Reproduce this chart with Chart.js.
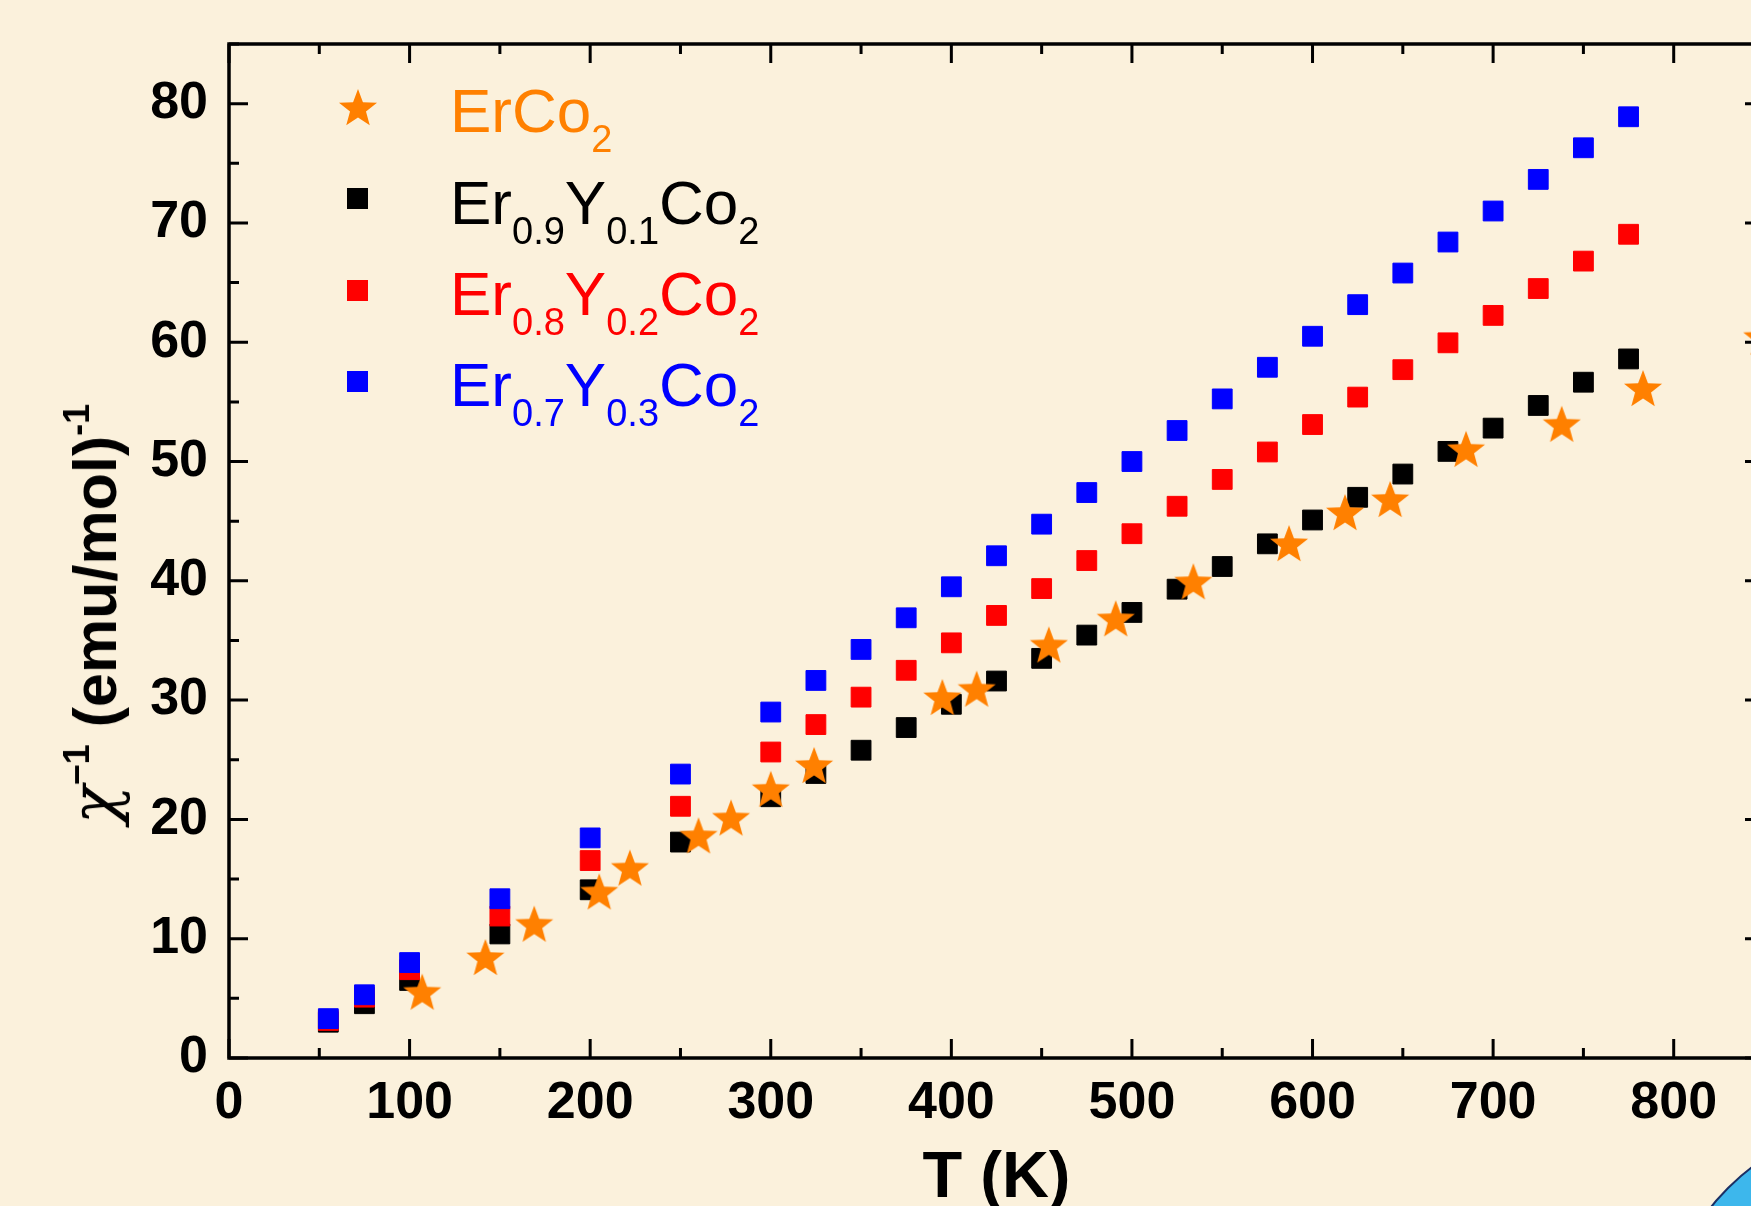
<!DOCTYPE html>
<html>
<head>
<meta charset="utf-8">
<script src="https://cdn.jsdelivr.net/npm/chart.js@4/dist/chart.umd.min.js"></script>
<style>
  html, body { margin: 0; padding: 0; }
  body {
    width: 1751px; height: 1206px; overflow: hidden; position: relative;
    background: #fbf1dc;
    font-family: "Liberation Sans", Arial, sans-serif;
  }
  #wrap { position: absolute; left: 0; top: 0; width: 1787px; height: 1240px; }
  .row { position: absolute; left: 450px; font-size: 62px; line-height: 62px; white-space: nowrap; }
  .row sub { font-size: 38px; vertical-align: -20px; line-height: 0; }
  .mk { position: absolute; width: 21px; height: 21px; }
  #ytitle {
    position: absolute; left: 94px; top: 614px;
    transform: translate(-50%, -50%) rotate(-90deg);
    font-size: 61px; font-weight: bold; white-space: nowrap; color: #000;
  }
  #ytitle sup { font-size: 36px; vertical-align: 27px; line-height: 0; }
  #ytitle .chi { font-family: "DejaVu Serif", serif; font-style: italic; font-weight: normal; font-size: 64px; }
  #deco {
    position: absolute; left: 1655px; top: 1115px; width: 490px; height: 490px;
    border-radius: 50%; background: #3db7ec; border: 2px solid #1b2f63;
  }
</style>
</head>
<body>
<div id="wrap"><canvas id="chart" width="1787" height="1240"></canvas></div>

<div id="ytitle"><span class="chi">χ</span><sup>−1</sup> (emu/mol)<sup>-1</sup></div>

<canvas id="legStar" class="mk" style="left:337px; top:88px; width:42px; height:42px;" width="42" height="42"></canvas>
<div class="row" style="top:80px; color:#ff8000;">ErCo<sub>2</sub></div>
<div class="mk" style="left:347px; top:188px; background:#000;"></div>
<div class="row" style="top:172px; color:#000;">Er<sub>0.9</sub>Y<sub>0.1</sub>Co<sub>2</sub></div>
<div class="mk" style="left:347px; top:280px; background:#ff0000;"></div>
<div class="row" style="top:263px; color:#ff0000;">Er<sub>0.8</sub>Y<sub>0.2</sub>Co<sub>2</sub></div>
<div class="mk" style="left:347px; top:371px; background:#0000ff;"></div>
<div class="row" style="top:354px; color:#0000ff;">Er<sub>0.7</sub>Y<sub>0.3</sub>Co<sub>2</sub></div>

<div id="deco"></div>

<script>
// temperatures (K) for the Er(1-x)Y(x)Co2 samples
const tempY = [55, 75, 100, 150, 200, 250, 300, 325, 350, 375, 400, 425, 450, 475, 500, 525, 550, 575, 600, 625, 650, 675, 700, 725, 750, 775];
const er09 = [3.0, 4.55, 6.5, 10.4, 14.1, 18.1, 21.9, 23.85, 25.8, 27.7, 29.65, 31.6, 33.5, 35.45, 37.35, 39.3, 41.2, 43.1, 45.1, 47.0, 48.95, 50.85, 52.8, 54.7, 56.65, 58.6];
const er08 = [3.15, 5.1, 7.4, 11.9, 16.55, 21.1, 25.65, 27.95, 30.25, 32.5, 34.8, 37.1, 39.35, 41.7, 43.95, 46.25, 48.5, 50.8, 53.1, 55.4, 57.7, 59.95, 62.25, 64.5, 66.8, 69.05];
const er07 = [3.3, 5.3, 8.0, 13.35, 18.45, 23.8, 29.0, 31.65, 34.25, 36.9, 39.5, 42.1, 44.75, 47.4, 50.0, 52.6, 55.25, 57.9, 60.5, 63.15, 65.8, 68.4, 71.0, 73.65, 76.3, 78.9];

// ErCo2 has its own temperature points
const tempEr = [107, 142, 169, 205, 222, 260, 278, 300, 324, 395, 414, 454, 491, 534, 587, 618, 643, 685, 738, 783, 849];
const erCo2 = [5.4, 8.3, 11.1, 13.8, 15.8, 18.5, 20.0, 22.4, 24.4, 30.1, 30.8, 34.5, 36.7, 39.8, 43.0, 45.6, 46.7, 50.9, 53.0, 56.0, 60.3];

const xTicks = [0, 100, 200, 300, 400, 500, 600, 700, 800];
const yTicks = [0, 10, 20, 30, 40, 50, 60, 70, 80];

function drawStar(g, cx, cy, R, color) {
  g.beginPath();
  for (let i = 0; i < 10; i++) {
    const r = i % 2 ? R * 0.42 : R;
    const a = -Math.PI / 2 + i * Math.PI / 5;
    g.lineTo(cx + r * Math.cos(a), cy + r * Math.sin(a));
  }
  g.closePath();
  g.fillStyle = color;
  g.fill();
}

function makeStar(R, color) {
  const c = document.createElement('canvas');
  const s = Math.ceil(R * 2 + 2);
  c.width = s; c.height = s;
  drawStar(c.getContext('2d'), s / 2, s / 2, R, color);
  return c;
}

const starImg = makeStar(20, '#ff8000');
drawStar(document.getElementById('legStar').getContext('2d'), 21, 21, 20, '#ff8000');

const pts = (xs, ys) => xs.map((x, i) => ({x: x, y: ys[i]}));

// frame with inward ticks on all four sides
const framePlugin = {
  id: 'frame',
  beforeDatasetsDraw(chart) {
    const {ctx, chartArea: a, scales: {x, y}} = chart;
    ctx.save();
    ctx.strokeStyle = '#000';
    ctx.lineWidth = 3;
    for (let v = 0; v <= 850; v += 50) {
      const px = x.getPixelForValue(v);
      const len = v % 100 === 0 ? 19 : 10;
      ctx.beginPath();
      ctx.moveTo(px, a.bottom); ctx.lineTo(px, a.bottom - len);
      ctx.moveTo(px, a.top); ctx.lineTo(px, a.top + len);
      ctx.stroke();
    }
    for (let v = 0; v <= 85; v += 5) {
      const py = y.getPixelForValue(v);
      const len = v % 10 === 0 ? 19 : 10;
      ctx.beginPath();
      ctx.moveTo(a.left, py); ctx.lineTo(a.left + len, py);
      ctx.moveTo(a.right, py); ctx.lineTo(a.right - len, py);
      ctx.stroke();
    }
    ctx.lineWidth = 3.5;
    ctx.strokeRect(a.left, a.top, a.right - a.left, a.bottom - a.top);
    ctx.restore();
  }
};

const sq = (color, order) => ({
  pointStyle: 'rect', pointRadius: 14, pointHoverRadius: 14,
  backgroundColor: color, borderColor: color, borderWidth: 1, order: order
});

new Chart(document.getElementById('chart'), {
  type: 'scatter',
  data: {
    datasets: [
      Object.assign({label: 'ErCo2', data: pts(tempEr, erCo2)},
        {pointStyle: starImg, pointRadius: 20, order: 0}),
      Object.assign({label: 'Er0.7Y0.3Co2', data: pts(tempY, er07)}, sq('#0000ff', 1)),
      Object.assign({label: 'Er0.8Y0.2Co2', data: pts(tempY, er08)}, sq('#ff0000', 2)),
      Object.assign({label: 'Er0.9Y0.1Co2', data: pts(tempY, er09)}, sq('#000000', 3))
    ]
  },
  options: {
    responsive: false,
    animation: false,
    devicePixelRatio: 1,
    layout: { padding: { left: 0, top: 44, right: 23, bottom: 0 } },
    plugins: { legend: { display: false }, tooltip: { enabled: false } },
    scales: {
      x: {
        type: 'linear', min: 0, max: 850,
        afterFit(s) { s.height = 182; s.paddingLeft = 0; s.paddingRight = 0; },
        afterBuildTicks(s) { s.ticks = xTicks.map(v => ({value: v})); },
        grid: { display: false, drawTicks: false },
        border: { display: false },
        ticks: { color: '#000', padding: 14, maxRotation: 0,
                 font: { family: 'Liberation Sans', weight: 'bold', size: 52 } },
        title: { display: true, text: 'T (K)', color: '#000',
                 font: { family: 'Liberation Sans', weight: 'bold', size: 65, lineHeight: 1.2 },
                 padding: { top: 0, bottom: 22 } }
      },
      y: {
        type: 'linear', min: 0, max: 85,
        afterFit(s) { s.width = 229; s.paddingTop = 0; s.paddingBottom = 0; },
        afterBuildTicks(s) { s.ticks = yTicks.map(v => ({value: v})); },
        grid: { display: false, drawTicks: false },
        border: { display: false },
        ticks: { color: '#000', padding: 21,
                 font: { family: 'Liberation Sans', weight: 'bold', size: 52 } }
      }
    }
  },
  plugins: [framePlugin]
});
</script>
</body>
</html>
